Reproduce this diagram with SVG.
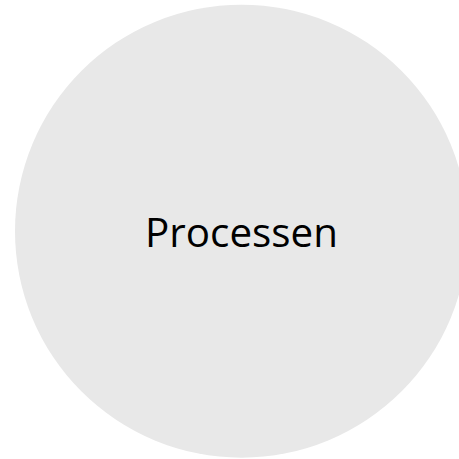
<svg xmlns="http://www.w3.org/2000/svg" width="459" height="459" viewBox="0 0 459 459">
<style>
.node{fill:#e8e8e8;stroke:none}
.lbl{font-family:"Open Sans","Liberation Sans",sans-serif;font-size:41px;fill:#000;text-anchor:middle}
</style>
<rect width="459" height="459" fill="#ffffff"/>
<g id="connectors"></g>
<g id="processen">
<circle class="node" cx="241.5" cy="231.2" r="226.5"/>
<text class="lbl" x="241.5" y="247" textLength="193" lengthAdjust="spacingAndGlyphs">Processen</text>
</g>
</svg>
